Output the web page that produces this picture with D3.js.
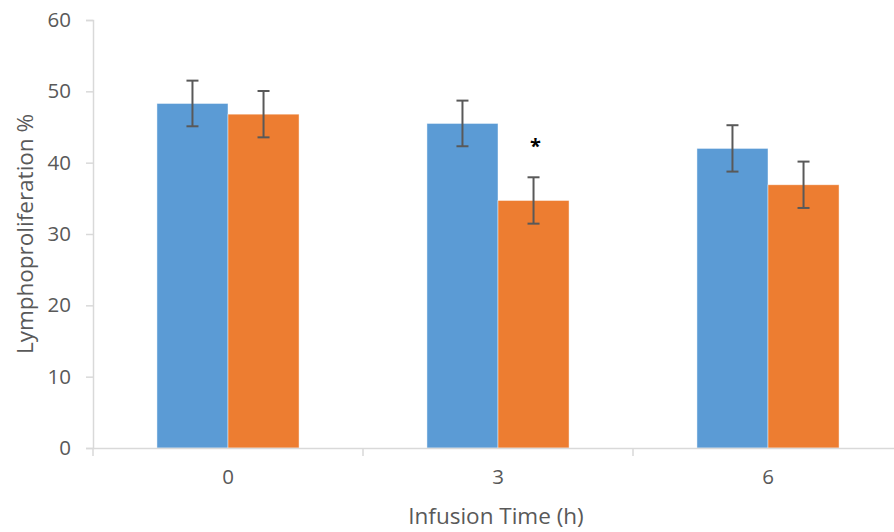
<!DOCTYPE html>
<html>
<head>
<meta charset="utf-8">
<script src="https://cdn.jsdelivr.net/npm/d3@7"></script>
<style>
  body { margin: 0; background: #fff; }
  svg { display: block; }
  svg text { font-family: "Open Sans", "Noto Sans", sans-serif; }
</style>
</head>
<body>
<svg id="chart"></svg>
<script>
// data
let categories = ['0', '3', '6']
let seriesNames = ['Control', 'Treated']
let blueValues = [48.3, 45.5, 42.0]
let orangeValues = [46.8, 34.7, 36.9]
let blueErrors = [3.2, 3.2, 3.25]
let orangeErrors = [3.25, 3.25, 3.25]
let yTicks = [0, 10, 20, 30, 40, 50, 60]
let marks = ['', '*', '']

let width = 894
let height = 532
let plotLeft = 93
let plotRight = 903
let plotTop = 20
let plotBottom = 448

let colors = ['#5B9BD5', '#ED7D31']

let svg = d3.select('#chart').attr('width', width).attr('height', height)

let xScale = d3.scaleBand()
    .domain(categories)
    .range([plotLeft, plotRight])
    .paddingInner(0)
    .paddingOuter(0)

let inner = d3.scaleBand()
    .domain(seriesNames)
    .range([0, xScale.bandwidth()])
    .paddingOuter(0.9)
    .paddingInner(0)

let yScale = d3.scaleLinear()
    .domain([0, 60])
    .range([plotBottom, plotTop])

// rows for drawing
let rows = []
categories.forEach((c, i) => {
    rows.push({ cat: c, series: seriesNames[0], value: blueValues[i], err: blueErrors[i], color: colors[0] })
    rows.push({ cat: c, series: seriesNames[1], value: orangeValues[i], err: orangeErrors[i], color: colors[1] })
})

// y axis
let yAxis = d3.axisLeft(yScale).tickValues(yTicks).tickSize(7).tickPadding(15)
let gy = svg.append('g')
    .attr('transform', 'translate(' + plotLeft + ',0)')
    .call(yAxis)
gy.select('.domain').attr('stroke', '#D9D9D9').attr('stroke-width', 1.5)
gy.selectAll('.tick line').attr('stroke', '#D9D9D9').attr('stroke-width', 1.5)
gy.selectAll('.tick text').attr('fill', '#595959').style('font-size', '20.5px')

// bars
svg.append('g').selectAll('rect')
    .data(rows)
    .enter()
    .append('rect')
    .attr('x', (d) => xScale(d.cat) + inner(d.series))
    .attr('y', (d) => yScale(d.value))
    .attr('width', inner.bandwidth())
    .attr('height', (d) => yScale(0) - yScale(d.value))
    .attr('fill', (d) => d.color)
    .attr('stroke', '#fff')
    .attr('stroke-opacity', 0.6)
    .attr('stroke-width', 0.75)

// x axis
let xAxis = d3.axisBottom(xScale).tickSize(0).tickPadding(21)
let gx = svg.append('g')
    .attr('transform', 'translate(0,' + plotBottom + ')')
    .call(xAxis)
gx.select('.domain').attr('stroke', '#D9D9D9').attr('stroke-width', 1.5)
gx.selectAll('.tick text').attr('fill', '#595959').style('font-size', '20.5px')
// boundary ticks between categories
let bounds = categories.map((c) => xScale(c))
gx.selectAll('.bound')
    .data(bounds)
    .enter()
    .append('line')
    .attr('x1', (d) => d).attr('x2', (d) => d)
    .attr('y1', 0).attr('y2', 8)
    .attr('stroke', '#D9D9D9')
    .attr('stroke-width', 1.5)

// error bars
let eb = svg.append('g').attr('stroke', '#595959').attr('stroke-width', 2)
rows.forEach((d) => {
    let cx = xScale(d.cat) + inner(d.series) + inner.bandwidth() / 2
    let y1 = yScale(d.value + d.err)
    let y2 = yScale(d.value - d.err)
    eb.append('line').attr('x1', cx).attr('x2', cx).attr('y1', y1).attr('y2', y2)
    eb.append('line').attr('x1', cx - 6).attr('x2', cx + 6).attr('y1', y1).attr('y2', y1)
    eb.append('line').attr('x1', cx - 6).attr('x2', cx + 6).attr('y1', y2).attr('y2', y2)
})

// significance marks
categories.forEach((c, i) => {
    if (!marks[i]) return
    let cx = xScale(c) + inner(seriesNames[1]) + inner.bandwidth() / 2
    svg.append('text')
        .attr('x', cx + 2)
        .attr('y', yScale(orangeValues[i] + orangeErrors[i]) - 24)
        .attr('text-anchor', 'middle')
        .attr('fill', '#000')
        .style('font-size', '20px')
        .style('font-weight', 'bold')
        .text(marks[i])
})

// axis titles
svg.append('text')
    .attr('x', (plotLeft + plotRight) / 2 - 2)
    .attr('y', 524)
    .attr('text-anchor', 'middle')
    .attr('fill', '#595959')
    .style('font-size', '22.5px')
    .text('Infusion Time (h)')

svg.append('text')
    .attr('transform', 'translate(33,' + ((plotTop + plotBottom) / 2) + ') rotate(-90)')
    .attr('text-anchor', 'middle')
    .attr('fill', '#595959')
    .style('font-size', '22.5px')
    .text('Lymphoproliferation %')
</script>
</body>
</html>
